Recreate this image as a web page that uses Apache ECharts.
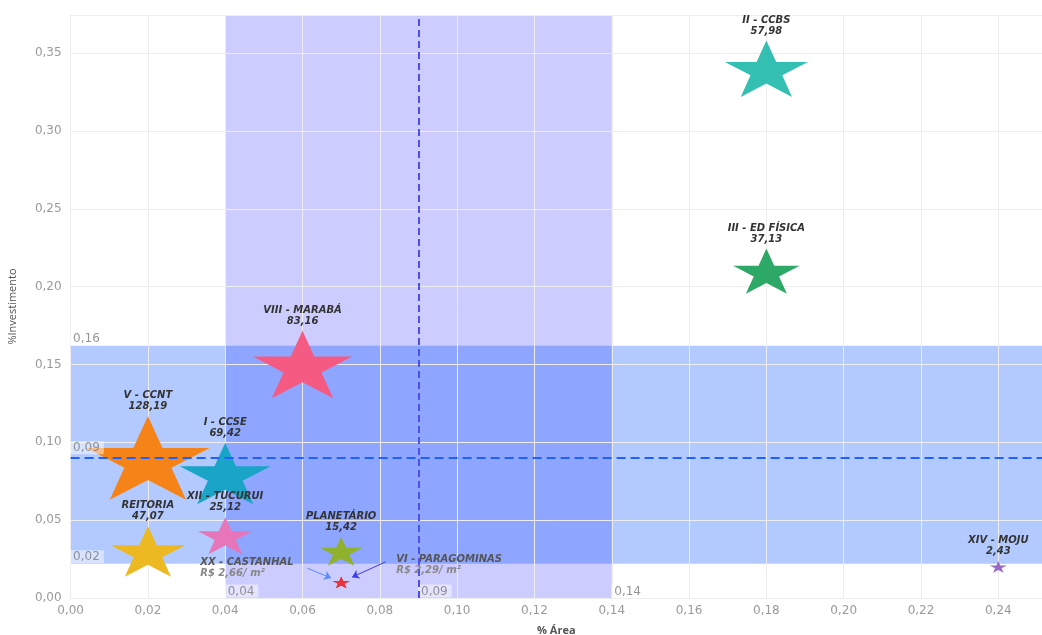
<!DOCTYPE html>
<html>
<head>
<meta charset="utf-8">
<script src="https://cdn.jsdelivr.net/npm/echarts@6/dist/echarts.min.js"></script>
<style>
html,body{margin:0;padding:0;background:#fff;}
#c{width:1042px;height:635px;}
</style>
</head>
<body>
<div id="c"></div>
<script>
// ---- data ----
const unitNames   = ['II - CCBS','III - ED FÍSICA','VIII - MARABÁ','V - CCNT','I - CCSE','XII - TUCURUI','REITORIA','PLANETÁRIO','XIV - MOJU'];
const areaPct     = [0.18, 0.18, 0.06, 0.02, 0.04, 0.04, 0.02, 0.07, 0.24];
const investPct   = [0.34, 0.21, 0.15, 0.09, 0.08, 0.04, 0.03, 0.03, 0.02];
const costValues  = [57.98, 37.13, 83.16, 128.19, 69.42, 25.12, 47.07, 15.42, 2.43];
const unitColors  = ['#33bfb1','#2ea866','#f55a83','#f58318','#1aa4c5','#e676b9','#ecb922','#8fb12e','#9a6bc6'];

// overlapping small units (annotated)
const noteNames   = ['XX - CASTANHAL','VI - PARAGOMINAS'];
const noteArea    = [0.07, 0.07];
const noteInvest  = [0.01, 0.01];
const noteValues  = [2.66, 2.29];
const noteColors  = ['#e8333b','#e8333b'];
const arrowFrom   = [[0.0612, 0.0192],[0.0815, 0.0232]];
const arrowTo     = [[0.0674, 0.0128],[0.0728, 0.0134]];
const arrowColors = ['#5b8cff','#3b3bef'];

// reference bands and averages
const areaBand    = [0.04, 0.14];
const investBand  = [0.022, 0.162];
const areaMean    = 0.09;
const investMean  = 0.092;

// axis ranges
const xRange = [0, 0.2513];
const yRange = [0, 0.3745];

const fmt = v => v.toFixed(2).replace('.', ',');
const STAR = 'path://M100,0 L122.45,69.1 L195.11,69.1 L136.33,111.8 L158.78,180.9 L100,138.2 L41.22,180.9 L63.67,111.8 L4.89,69.1 L77.55,69.1 Z';
const starSize = v => [10.9 * Math.sqrt(v[2]), 7.4 * Math.sqrt(v[2])];

const FONT = '"Open Sans", "Noto Sans", sans-serif';
const LABELFONT = '"DejaVu Sans", sans-serif';
const TICKFONT = '"DejaVu Sans", "Open Sans", sans-serif';

const mainData = unitNames.map((n, i) => ({
  name: n,
  value: [areaPct[i], investPct[i], costValues[i]],
  itemStyle: { color: unitColors[i], opacity: 1 }
}));

const noteOffsets = [[-141, -26], [55, -29]];
const noteData = noteNames.map((n, i) => ({
  name: n,
  value: [noteArea[i], noteInvest[i], noteValues[i]],
  itemStyle: { color: noteColors[i], opacity: 1 },
  label: { offset: noteOffsets[i] }
}));

const bandLabelData = [
  [0, investBand[1]],
  [0, investBand[0]],
  [0, investMean],
  [areaBand[0], 0],
  [areaMean, 0],
  [areaBand[1], 0]
];
const bandLabelText = [investBand[1], investBand[0], investMean, areaBand[0], areaMean, areaBand[1]].map(fmt);

const chart = echarts.init(document.getElementById('c'));
chart.setOption({
  animation: false,
  backgroundColor: '#fff',
  textStyle: { fontFamily: FONT },
  grid: { left: 70.6, right: 0, top: 15, bottom: 37, containLabel: false, outerBoundsMode: 'none' },
  xAxis: {
    type: 'value', min: xRange[0], max: xRange[1], interval: 0.02, z: 2,
    name: '% Área', nameLocation: 'middle', nameGap: 27,
    nameTextStyle: { color: '#555', fontSize: 11, fontWeight: 'bold', fontFamily: FONT },
    axisLine: { show: false }, axisTick: { show: false },
    axisLabel: { color: '#9a9a9a', fontSize: 12, margin: 7, formatter: fmt, showMaxLabel: false, fontFamily: TICKFONT },
    splitLine: { show: true, lineStyle: { color: '#ededed', width: 1 } }
  },
  yAxis: {
    type: 'value', min: yRange[0], max: yRange[1], interval: 0.05, z: 2,
    name: '%Investimento', nameLocation: 'middle', nameGap: 52,
    nameTextStyle: { color: '#555', fontSize: 11, fontFamily: FONT },
    axisLine: { show: false }, axisTick: { show: false },
    axisLabel: { color: '#9a9a9a', fontSize: 12, margin: 9, formatter: fmt, showMaxLabel: false, fontFamily: TICKFONT },
    splitLine: { show: true, lineStyle: { color: '#ededed', width: 1 } }
  },
  series: [
    {
      name: 'bands', type: 'scatter', data: [], silent: true,
      markArea: {
        silent: true, z: 1,
        data: [
          [{ xAxis: areaBand[0], yAxis: yRange[0], itemStyle: { color: 'rgba(0,0,255,0.2)' } }, { xAxis: areaBand[1], yAxis: yRange[1] }],
          [{ xAxis: xRange[0], yAxis: investBand[0], itemStyle: { color: 'rgba(0,80,255,0.3)' } }, { xAxis: xRange[1], yAxis: investBand[1] }]
        ]
      },
      markLine: {
        silent: true, symbol: 'none', label: { show: false },
        data: [
          { xAxis: areaMean, lineStyle: { color: '#4f4ff0', width: 2, type: [7, 4] } },
          { yAxis: investMean, lineStyle: { color: '#2160ff', width: 2, type: [9, 5] } }
        ]
      }
    },
    {
      name: 'bandLabels', type: 'scatter', z: 4, silent: true,
      symbolSize: 1, itemStyle: { color: 'rgba(0,0,0,0)' },
      data: bandLabelData.map((v, i) => ({ value: v, name: bandLabelText[i] })),
      label: {
        show: true, position: [0, 0], align: 'left', verticalAlign: 'bottom',
        formatter: p => p.name, color: '#7a7a7a', fontSize: 12, fontFamily: TICKFONT,
        backgroundColor: 'rgba(255,255,255,0.6)', padding: [1, 4, 0, 3]
      }
    },
    {
      name: 'units', type: 'scatter', z: 3,
      symbol: STAR, symbolSize: starSize,
      itemStyle: { opacity: 1 },
      data: mainData,
      label: {
        show: true, position: 'top', distance: 4,
        formatter: p => p.name + '\n' + fmt(p.value[2]),
        color: '#333', fontSize: 10, fontStyle: 'italic', fontWeight: 'bold', lineHeight: 11,
        fontFamily: LABELFONT
      }
    },
    {
      name: 'notes', type: 'scatter', z: 3,
      symbol: STAR, symbolSize: starSize,
      itemStyle: { opacity: 1 },
      data: noteData,
      label: {
        show: true, position: ['50%', '50%'], align: 'left', verticalAlign: 'top',
        formatter: p => '{a|' + p.name + '}\n{b|R$ ' + fmt(p.value[2]) + '/ m²}',
        rich: {
          a: { color: '#555', fontSize: 10, fontStyle: 'italic', fontWeight: 'bold', lineHeight: 11, fontFamily: LABELFONT },
          b: { color: '#888', fontSize: 10, fontStyle: 'italic', fontWeight: 'bold', lineHeight: 11, fontFamily: LABELFONT }
        }
      },
      markLine: {
        silent: true, symbol: ['none', 'arrow'], symbolSize: 7, label: { show: false },
        data: arrowFrom.map((f, i) => [
          { coord: f, lineStyle: { color: arrowColors[i], width: 1, type: 'solid' } },
          { coord: arrowTo[i] }
        ])
      }
    }
  ]
});
</script>
</body>
</html>
